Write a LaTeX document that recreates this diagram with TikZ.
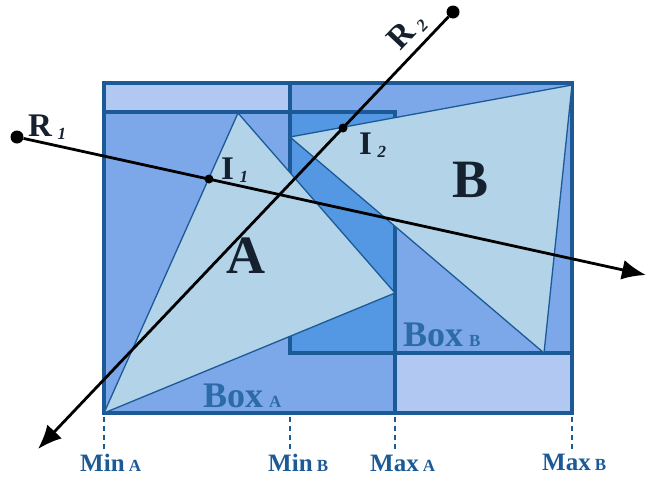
\documentclass[tikz,border=0pt]{standalone}
\usepackage{fontspec}
\setmainfont{Liberation Serif}
\usetikzlibrary{arrows.meta}

\definecolor{boxline}{HTML}{1B5A96}
\definecolor{boxlight}{HTML}{B0C8F2}
\definecolor{boxfill}{HTML}{7CA8EA}
\definecolor{boxover}{HTML}{5497E2}
\definecolor{trifill}{HTML}{B3D3E8}
\definecolor{labelblue}{HTML}{2C6AA8}
\definecolor{inktext}{HTML}{15212E}

\newcommand\smallsub[1]{\,\raisebox{-3pt}{\fontsize{17}{17}\selectfont\itshape #1}}
\newcommand\boxsub[1]{\,{\fontsize{17}{17}\selectfont #1}}

\begin{document}
\begin{tikzpicture}[
  x=1pt, y=-1pt,
  boxedge/.style={draw=boxline, line width=3.2pt},
  tri/.style={draw=boxline, line width=1.3pt, fill=trifill, line join=round},
  ray/.style={line width=2.8pt, -{Latex[length=24pt,width=20pt]}},
  origin/.style={circle, fill=black, inner sep=0pt, minimum size=13pt},
  hit/.style={circle, fill=black, inner sep=0pt, minimum size=9pt},
  guide/.style={draw=boxline, line width=2.6pt, dash pattern=on 5pt off 4pt},
  bigtext/.style={inner sep=0pt, text=inktext, font=\fontsize{54}{54}\selectfont\bfseries},
  pointtext/.style={inner sep=0pt, text=inktext, font=\fontsize{33}{33}\selectfont\bfseries},
  boxtext/.style={inner sep=0pt, text=labelblue, font=\fontsize{36}{36}\selectfont\bfseries},
  axistext/.style={inner sep=0pt, anchor=base west, text=boxline, font=\fontsize{25}{25}\selectfont\bfseries}
]
\useasboundingbox (0,0) rectangle (647,477);

% corners of the two boxes
\coordinate (minA) at (104,413);
\coordinate (maxA) at (395,112);
\coordinate (minB) at (290,353);
\coordinate (maxB) at (572,83);

% fills
\fill[boxlight] (104,83) rectangle (572,413);
\fill[boxfill] (minA) rectangle (maxA);
\fill[boxfill] (minB) rectangle (maxB);
\fill[boxover] (290,112) rectangle (395,353);

% box outlines
\draw[boxedge] (104,83) rectangle (572,413);
\draw[boxedge] (minA) rectangle (maxA);
\draw[boxedge] (minB) rectangle (maxB);

% triangles
\draw[tri] (238,113) -- (minA) -- (395,293) -- cycle;
\draw[tri] (290,137) -- (572,85) -- (544,353) -- cycle;

% labels in the boxes
\node[bigtext] (labA) at (246,256) {A};
\node[bigtext] (labB) at (471,180) {B};
\node[boxtext, anchor=base west] (boxA) at (203,407) {Box\boxsub{A}};
\node[boxtext, anchor=base west] (boxB) at (403,346) {Box\boxsub{B}};

% rays
\node[origin] (r1) at (17,137) {};
\node[origin] (r2) at (453,12) {};
\coordinate (r1end) at (646,275);
\coordinate (r2end) at (38,449);
\draw[ray] (r1) -- (r1end);
\draw[ray] (r2) -- (r2end);
\node[hit] (i1) at (209,179) {};
\node[hit] (i2) at (343,128) {};

\node[pointtext, anchor=base west] (labR1) at (28,136) {R\smallsub{1}};
\node[pointtext, rotate=46.5, anchor=base] (labR2) at (414,38) {R\smallsub{2}};
\node[pointtext, anchor=base west] (labI1) at (221,179) {I\smallsub{1}};
\node[pointtext, anchor=base west] (labI2) at (359,154) {I\smallsub{2}};

% extents on the axis
\node[axistext] (minAlab) at (80,471) {Min\boxsub{A}};
\node[axistext] (minBlab) at (268,471) {Min\boxsub{B}};
\node[axistext] (maxAlab) at (370,471) {Max\boxsub{A}};
\node[axistext] (maxBlab) at (542,470) {Max\boxsub{B}};
\draw[guide] (104,417) -- (104,449);
\draw[guide] (290,357) ++(0,60) -- (290,449);
\draw[guide] (395,417) -- (395,449);
\draw[guide] (572,417) -- (572,449);

\end{tikzpicture}
\end{document}
